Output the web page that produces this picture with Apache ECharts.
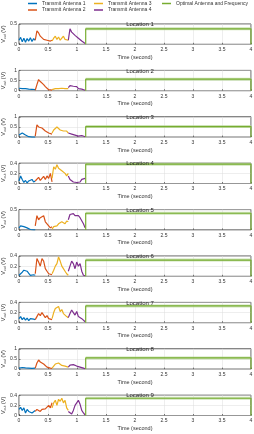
<!DOCTYPE html>
<html><head><meta charset="utf-8">
<script src="https://cdn.jsdelivr.net/npm/echarts@6/dist/echarts.min.js"></script>
<style>html,body{margin:0;padding:0;background:#fff}#c{width:254px;height:434px}</style>
</head><body><div id="c"></div>
<script>
const locations = ['Location 1','Location 2','Location 3','Location 4','Location 5','Location 6','Location 7','Location 8','Location 9'];
const yMax = [0.5, 1, 1, 0.4, 0.5, 0.4, 0.4, 1, 0.4];
const yStep = [0.5, 0.5, 0.5, 0.2, 0.5, 0.2, 0.2, 0.5, 0.2];
const ant1T = [0,0.028,0.056,0.084,0.112,0.14,0.168,0.196,0.224,0.252,0.28];
const ant2T = [0.28,0.309,0.338,0.367,0.396,0.425,0.454,0.483,0.512,0.541,0.57];
const ant3T = [0.57,0.598,0.626,0.654,0.682,0.71,0.738,0.766,0.794,0.822,0.85];
const ant4T = [0.85,0.879,0.908,0.937,0.966,0.995,1.024,1.053,1.082,1.111,1.14];
const ant1V = [
 [0.1,0.17,0.06,0.15,0.05,0.14,0.08,0.16,0.07,0.14,0.1],
 [0.12,0.08,0.1,0.07,0.1,0.06,0.08,0.1,0.07,0.09,0.05],
 [0.1,0.18,0.2,0.15,0.1,0.05,0.02,0,0,0,0],
 [0.05,0.15,0.08,0.02,0.06,0.01,0.05,0.02,0.08,0.03,0.05],
 [0.05,0.1,0.12,0.08,0.1,0.05,0.02,0.01,0,0,0],
 [0.02,0.05,0.08,0.12,0.15,0.1,0.06,0.02,0.05,0.03,0.02],
 [0.08,0.12,0.06,0.1,0.05,0.09,0.04,0.08,0.05,0.07,0.06],
 [0.05,0.1,0.08,0.12,0.06,0.1,0.05,0.08,0.04,0.06,0.05],
 [0.12,0.16,0.1,0.15,0.05,0.12,0.08,0.1,0.05,0.08,0.1]
];
const ant2V = [
 [0.1,0.33,0.28,0.2,0.22,0.12,0.15,0.1,0.12,0.08,0.1],
 [0.02,0.3,0.55,0.45,0.4,0.3,0.2,0.12,0.05,0.02,0.03],
 [0.05,0.6,0.5,0.55,0.45,0.4,0.3,0.35,0.2,0.25,0.15],
 [0.05,0.08,0.12,0.06,0.1,0.14,0.08,0.15,0.1,0.2,0.03],
 [0.1,0.35,0.25,0.3,0.28,0.35,0.2,0.15,0.1,0.05,0.08],
 [0.05,0.35,0.28,0.2,0.35,0.3,0.15,0.1,0.05,0.02,0.03],
 [0.06,0.12,0.18,0.14,0.2,0.15,0.1,0.14,0.08,0.1,0.06],
 [0.05,0.3,0.45,0.35,0.4,0.25,0.2,0.1,0.08,0.05,0.03],
 [0.08,0.12,0.1,0.08,0.12,0.1,0.13,0.1,0.2,0.15,0.25]
];
const ant3V = [
 [0.08,0.15,0.2,0.12,0.18,0.1,0.15,0.2,0.12,0.08,0.1],
 [0.05,0.08,0.1,0.06,0.1,0.08,0.12,0.09,0.1,0.08,0.1],
 [0.2,0.35,0.3,0.5,0.45,0.35,0.4,0.3,0.25,0.3,0.2],
 [0.1,0.33,0.28,0.37,0.3,0.33,0.25,0.28,0.2,0.15,0.2],
 [0.02,0.08,0.12,0.1,0.15,0.12,0.2,0.18,0.15,0.22,0.2],
 [0.05,0.12,0.2,0.25,0.38,0.3,0.2,0.15,0.1,0.05,0.02],
 [0.08,0.2,0.28,0.25,0.32,0.22,0.26,0.18,0.2,0.12,0.1],
 [0.05,0.15,0.25,0.2,0.3,0.22,0.18,0.12,0.15,0.08,0.1],
 [0.15,0.25,0.3,0.2,0.32,0.28,0.34,0.25,0.3,0.15,0.1]
];
const ant4V = [
 [0.1,0.38,0.3,0.32,0.22,0.25,0.15,0.18,0.08,0.1,0.02],
 [0.15,0.25,0.2,0.22,0.18,0.2,0.1,0.12,0.08,0.05,0.02],
 [0.2,0.25,0.15,0.2,0.1,0.15,0.05,0.12,0.08,0.1,0.02],
 [0.15,0.08,0.05,0.03,0.06,0.02,0.05,0.03,0.08,0.05,0.1],
 [0.25,0.38,0.42,0.4,0.35,0.33,0.35,0.3,0.28,0.15,0.05],
 [0.1,0.2,0.3,0.25,0.15,0.28,0.2,0.25,0.1,0.02,0.01],
 [0.1,0.18,0.25,0.2,0.15,0.22,0.12,0.15,0.08,0.05,0.02],
 [0.1,0.2,0.28,0.22,0.25,0.15,0.2,0.1,0.08,0.05,0.02],
 [0.08,0.05,0.03,0.1,0.2,0.25,0.3,0.22,0.1,0.05,0.01]
];
const greenLevel = [0.38, 0.57, 0.52, 0.38, 0.41, 0.32, 0.33, 0.55, 0.34];
const greenStart = 1.15, greenEnd = 4;
const seriesNames = ['Transmit Antenna 1','Transmit Antenna 2','Transmit Antenna 3','Transmit Antenna 4','Optimal Antenna and Frequency'];
const colors = ['#0072BD','#D95319','#EDB120','#7E2F8E','#77AC30'];

const FONT = 'Liberation Sans';
const top0 = 24, step = 46.4, h = 20.3;
const grid = [], xAxis = [], yAxis = [], series = [], title = [];
const zip = (t, v) => t.map((x, k) => [x, v[k]]);
locations.forEach((loc, i) => {
  const top = top0 + i * step;
  grid.push({left: 19, right: 3, top: top, height: h, containLabel: false, outerBoundsMode: 'none', show: true, borderColor: '#262626', borderWidth: 0.8, backgroundColor: '#fff'});
  title.push({text: loc, left: 135, textAlign: 'center', top: top - 7.5, textStyle: {fontFamily: FONT, fontSize: 6, fontWeight: 'normal', color: '#222'}});
  xAxis.push({gridIndex: i, type: 'value', min: 0, max: 4, interval: 0.5,
    name: 'Time (second)', nameLocation: 'middle', nameGap: 10, nameMoveOverlap: false,
    nameTextStyle: {fontFamily: FONT, fontSize: 5.5, color: '#333'},
    axisLine: {show: false}, axisTick: {show: true, inside: true, length: 1.5, lineStyle: {color: '#262626', width: 0.6}},
    axisLabel: {fontFamily: FONT, fontSize: 5, color: '#333', margin: 3},
    splitLine: {show: true, lineStyle: {color: '#dcdcdc', width: 0.5}}});
  yAxis.push({gridIndex: i, type: 'value', min: 0, max: yMax[i], interval: yStep[i],
    name: '{a|V}{b|out}{a| (V)}', nameLocation: 'middle', nameGap: 12, nameRotate: 90, nameMoveOverlap: false,
    nameTextStyle: {fontFamily: FONT, fontSize: 5.5, color: '#333', rich: {a: {fontFamily: FONT, fontSize: 5.5, color: '#333'}, b: {fontFamily: FONT, fontSize: 3.5, color: '#333', verticalAlign: 'bottom', padding: [3,0,0,0]}}},
    axisLine: {show: false}, axisTick: {show: true, inside: true, length: 1.5, lineStyle: {color: '#262626', width: 0.6}},
    axisLabel: {fontFamily: FONT, fontSize: 5, color: '#333', margin: 2},
    splitLine: {show: true, lineStyle: {color: '#dcdcdc', width: 0.5}}});
  [[ant1T, ant1V], [ant2T, ant2V], [ant3T, ant3V], [ant4T, ant4V]].forEach(([t, v], k) => {
    series.push({name: seriesNames[k], type: 'line', xAxisIndex: i, yAxisIndex: i, data: zip(t, v[i]),
      showSymbol: false, symbol: 'none', lineStyle: {color: colors[k], width: 1.2}, itemStyle: {color: colors[k]}, animation: false});
  });
  const g = [[greenStart, 0], [greenStart, greenLevel[i]], [greenEnd, greenLevel[i]], [greenEnd, 0]];
  series.push({name: seriesNames[4] + ' band', type: 'line', xAxisIndex: i, yAxisIndex: i, data: [[greenStart, greenLevel[i]], [greenEnd, greenLevel[i]]],
    symbol: 'none', lineStyle: {color: '#b9d99a', width: 3, opacity: 0.7}, animation: false, silent: true});
  series.push({name: seriesNames[4], type: 'line', xAxisIndex: i, yAxisIndex: i, data: g,
    symbol: 'none', lineStyle: {color: colors[4], width: 1.2}, itemStyle: {color: colors[4]}, animation: false});
});
const legStyle = {fontFamily: FONT, fontSize: 5, color: '#333'};
const legBase = {orient: 'vertical', icon: 'rect', itemWidth: 9, itemHeight: 1.5, itemGap: 1.5, textStyle: legStyle, padding: 0, selectedMode: false};
const legend = [
  Object.assign({}, legBase, {left: 28, top: 1, data: [seriesNames[0], seriesNames[1]]}),
  Object.assign({}, legBase, {left: 94, top: 1, data: [seriesNames[2], seriesNames[3]]}),
  Object.assign({}, legBase, {left: 162, top: 1, data: [seriesNames[4]]})
];
const chart = echarts.init(document.getElementById('c'), null, {renderer: 'canvas'});
chart.setOption({animation: false, color: colors, title, legend, grid, xAxis, yAxis, series});
</script></body></html>
